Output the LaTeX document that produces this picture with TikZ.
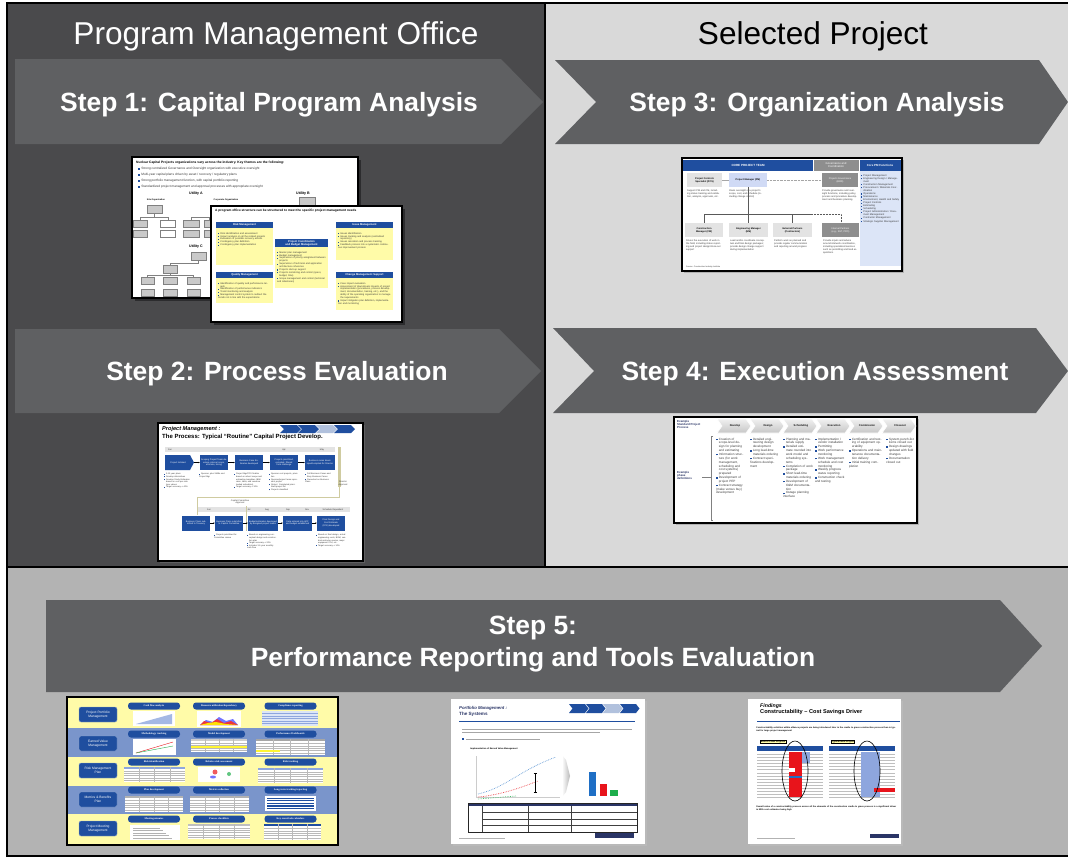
\documentclass[tikz,border=0pt]{standalone}
\usepackage{fontspec}
\setmainfont{Liberation Sans}
\newfontfamily\serifface{Liberation Serif}
\usetikzlibrary{arrows.meta}
\definecolor{dkpanel}{HTML}{4A4A4C}
\definecolor{ltpanel}{HTML}{D9D9D9}
\definecolor{btpanel}{HTML}{B3B3B3}
\definecolor{stepfill}{HTML}{5F6062}
\definecolor{pblue}{HTML}{1F4E9F}
\definecolor{pyel}{HTML}{FFFBA8}
\definecolor{rowblue}{HTML}{7A95CB}
\definecolor{lblue}{HTML}{DCE5F7}
\definecolor{pmblue}{HTML}{D0DAF5}
\definecolor{orggray}{HTML}{C9C9C9}
\definecolor{midgray}{HTML}{8E8E8E}
\definecolor{shadowgray}{HTML}{2C2C2E}
\definecolor{txtgray}{HTML}{3A3A3A}
\definecolor{tanbar}{HTML}{CFCBA0}
\definecolor{cellred}{HTML}{E8141B}
\definecolor{cellblue}{HTML}{8EA6DE}
\definecolor{barblue}{HTML}{1F6FC5}
\definecolor{bargreen}{HTML}{1DAE4B}
\definecolor{ttlnavy}{HTML}{2A3566}
\newcommand{\fsz}[2]{\fontsize{#1}{#2}\selectfont}
\newcommand{\bsq}{\textcolor{pblue}{\rule{0.5em}{0.5em}}\enspace}
\newcommand{\pitem}[1]{\par\hangindent=0.9em\hangafter=1\noindent\makebox[0.9em][l]{\textcolor{pblue}{\rule{0.45em}{0.45em}}}#1}
% grey org-chart box with a small 3D offset
\newcommand{\obox}[4]{%
  \fill[gray!60] (#1+1.2,#2+1.2) rectangle (#3+1.2,#4+1.2);
  \filldraw[fill=orggray,draw=gray,line width=0.3pt] (#1,#2) rectangle (#3,#4);}
% small table: x1 y1 x2 y2 header colour
\newcommand{\minitab}[5]{%
  \fill[white] (#1,#2) rectangle (#3,#4);
  \fill[#5] (#1,#2) rectangle (#3,#2+2);
  \foreach \k in {1,...,5}{\draw[gray!55,line width=0.25pt] (#1,{#2+2+\k*(#4-#2-2)/6}) -- (#3,{#2+2+\k*(#4-#2-2)/6});}
  \foreach \k in {1,...,3}{\draw[gray!55,line width=0.25pt] ({#1+\k*(#3-#1)/4},#2) -- ({#1+\k*(#3-#1)/4},#4);}}
\begin{document}
\begin{tikzpicture}[x=1pt,y=-1pt,
  steptext/.style={text=white,font=\bfseries\fsz{26.4}{31},anchor=base,inner sep=0pt},
  headtext/.style={font=\fsz{31.6}{36},anchor=base,inner sep=0pt},
  slide/.style={fill=white,draw=black,line width=1.5pt},
  tinytxt/.style={inner sep=0pt,font=\fsz{2.4}{2.9},text=txtgray,align=left},
  tinyb/.style={inner sep=0pt,font=\bfseries\fsz{2.6}{3.1},align=center},
  bluehd/.style={inner sep=0pt,text=white,font=\bfseries\fsz{2.7}{3.1},align=center},
  pblk/.style={fill=pblue,text=white,inner sep=0pt,font=\fsz{2.2}{2.6},align=center,minimum height=15pt},
  linkline/.style={gray!70!black,line width=0.5pt},
  lbox/.style={fill=pblue,draw=pblue!50,line width=0.4pt,rounded corners=2pt,minimum width=38pt,minimum height=15pt,text=white,font=\fsz{3.3}{3.9},align=center,inner sep=0pt},
  pill/.style={fill=pblue,rounded corners=3pt,minimum width=52pt,minimum height=7pt,text=white,font=\serifface\bfseries\fsz{2.6}{3},inner sep=0pt},
  chev/.style={top color=gray!12,bottom color=gray!45,draw=white,line width=0.6pt},
]
\useasboundingbox (0,0) rectangle (1068,857);
% ---------- panels and frame
\fill[white] (0,0) rectangle (1068,857);
\fill[dkpanel] (7,3) rectangle (545,567);
\fill[ltpanel] (545,3) rectangle (1068,567);
\fill[btpanel] (7,567) rectangle (1068,857);
\draw[black,line width=2pt] (7,857) -- (7,3) -- (1068,3);
\draw[black,line width=2pt] (545,3) -- (545,567);
\draw[black,line width=2pt] (7,567) -- (1068,567);
\draw[black,line width=2pt] (7,856) -- (1068,856);

% ---------- step arrows
\fill[stepfill] (15,59) -- (501,59) -- (543,102) -- (501,144) -- (15,144) -- cycle;
\fill[stepfill] (555,60) -- (1039,60) -- (1068,102) -- (1039,144) -- (555,144) -- (596,102) -- cycle;
\fill[stepfill] (15,329) -- (499,329) -- (541,371) -- (499,413) -- (15,413) -- cycle;
\fill[stepfill] (553,328) -- (1036,328) -- (1068,371) -- (1036,413) -- (553,413) -- (594,371) -- cycle;
\fill[stepfill] (46,600) -- (1000,600) -- (1042,646) -- (1000,692) -- (46,692) -- cycle;

\node[headtext,text=white] (pmo) at (276,44) {Program Management Office};
\node[headtext,text=black] (selp) at (813,44) {Selected Project};
\node[steptext] (st1) at (269,111) {Step 1: Capital Program Analysis};
\node[steptext] (st2) at (277,380) {Step 2: Process Evaluation};
\node[steptext] (st3) at (817,111) {Step 3: Organization Analysis};
\node[steptext] (st4) at (815,380) {Step 4: Execution Assessment};
\node[steptext] (st5a) at (533,634) {Step 5:};
\node[steptext] (st5b) at (533,666) {Performance Reporting and Tools Evaluation};

% ================= Step 1: utility organizations (back sheet)
\fill[shadowgray] (135,160) rectangle (361,301);
\draw[slide] (132,157) rectangle (358,298);
\node[anchor=west,inner sep=0pt,font=\bfseries\fsz{3.3}{4}] (ua0) at (136,163) {Nuclear Capital Projects organizations vary across the industry. Key themes are the following:};
\node[tinytxt,anchor=west,font=\fsz{3.2}{4}] (ua1) at (138,169) {\bsq Strong centralized Governance and Oversight organization with executive oversight};
\node[tinytxt,anchor=west,font=\fsz{3.2}{4}] (ua2) at (138,175) {\bsq Multi-year capital plans driven by asset / recovery / regulatory plans};
\node[tinytxt,anchor=west,font=\fsz{3.2}{4}] (ua3) at (138,181) {\bsq Strong portfolio management function, with capital portfolio reporting};
\node[tinytxt,anchor=west,font=\fsz{3.2}{4}] (ua4) at (138,187) {\bsq Standardized project management and approval processes with appropriate oversight};
\node[tinyb,font=\bfseries\fsz{3.6}{4}] (uA) at (196,194) {Utility A};
\node[tinyb,font=\bfseries\fsz{3.6}{4}] (uB) at (303,194) {Utility B};
\node[tinyb,font=\bfseries\fsz{3.6}{4}] (uC) at (196,247) {Utility C};
\node[tinyb,font=\bfseries\fsz{2.2}{3}] (siteorg) at (156,200) {Site Organization};
\node[tinyb,font=\bfseries\fsz{2.2}{3}] (corporg) at (226,200) {Corporate Organization};
\obox{147}{205}{162}{213}
\draw[gray,line width=0.3pt] (154.5,213) -- (154.5,217) (140,217) -- (168,217) (140,217) -- (140,220) (168,217) -- (168,220);
\obox{133}{220}{147}{227}
\filldraw[fill=white,draw=gray,line width=0.3pt] (160,220) rectangle (175,227);
\obox{133}{230}{147}{237}
\filldraw[fill=white,draw=gray,line width=0.3pt] (160,230) rectangle (175,237);
\obox{183}{220}{199}{227}
\obox{183}{230}{199}{237}
\obox{204}{220}{214}{227}
\obox{204}{230}{214}{237}
\draw[gray,line width=0.3pt] (191,217) -- (209,217) (191,217) -- (191,220) (209,217) -- (209,220);
\obox{299}{197}{315}{205}
\obox{191}{252}{206}{260}
\draw[gray,line width=0.3pt] (198.5,260) -- (198.5,263) -- (170,263) -- (170,265);
\obox{163}{265}{177}{273}
\draw[gray,line width=0.3pt] (170,273) -- (170,275) (147.5,275) -- (193.5,275) (147.5,275) -- (147.5,277) (193.5,275) -- (193.5,277);
\obox{141}{277}{154}{284}
\obox{163}{277}{177}{284}
\obox{187}{277}{200}{284}
\obox{141}{289}{154}{296}
\obox{163}{289}{177}{296}
\obox{187}{289}{200}{296}

% ================= Step 1: program office structure (front sheet)
\fill[shadowgray] (214,209) rectangle (405,325);
\draw[slide] (211,206) rectangle (402,322);
\node[anchor=west,inner sep=0pt,font=\bfseries\fsz{3.2}{4}] (pf0) at (215,211) {A program office structure can be structured to meet the specific project management needs};
\fill[pyel] (216,228) rectangle (273,265);
\fill[pblue] (216,222) rectangle (273,228);
\node[bluehd] (rmh) at (244.5,225) {Risk Management};
\node[tinytxt,anchor=north west,text width=53pt] (rmb) at (218,231) {\pitem{Risk identification and assessment}\pitem{Impact analysis on all the related projects}\pitem{Evaluation of possible recovery actions}\pitem{Contingency plan definition}\pitem{Contingency plan implementation}};
\fill[pyel] (216,278) rectangle (273,303);
\fill[pblue] (216,272) rectangle (273,278);
\node[bluehd] (qmh) at (244.5,275) {Quality Management};
\node[tinytxt,anchor=north west,text width=53pt] (qmb) at (218,281) {\pitem{Identification of quality and performance targets}\pitem{Identification of performance indicators}\pitem{Trend monitoring and analysis}\pitem{Management control system to redirect the trends not in line with the expectations}};
\fill[pyel] (275,247) rectangle (328,288);
\fill[pblue] (275,239) rectangle (328,247);
\node[bluehd] (pch) at (301.5,243) {Project Coordination\\and Budget Management};
\node[tinytxt,anchor=north west,text width=49pt] (pcb) at (277,250) {\pitem{Master plan management}\pitem{Budget management}\pitem{Supervision of priority assignment between projects}\pitem{Supervision of technical and application architecture coherence}\pitem{Projects start-up support}\pitem{Projects monitoring and control (specs, budget, time)}\pitem{Scope management and control (technical and milestones)}};
\fill[pyel] (336,228) rectangle (393,260);
\fill[pblue] (336,222) rectangle (393,228);
\node[bluehd] (imh) at (364.5,225) {Issue Management};
\node[tinytxt,anchor=north west,text width=53pt] (imb) at (338,231) {\pitem{Issues identification}\pitem{Issues tracking and analysis (centralized repository)}\pitem{Issues resolution and process tracking}\pitem{Feedback process into a systematic continuous improvement process}};
\fill[pyel] (336,278) rectangle (393,310);
\fill[pblue] (336,272) rectangle (393,278);
\node[bluehd] (cmh) at (364.5,275) {Change Management Support};
\node[tinytxt,anchor=north west,text width=53pt] (cmb) at (338,281) {\pitem{Case impact evaluation}\pitem{Assessment of downstream impacts of project implementation (procedures, process development, documentation, training, etc.), and the ability of the operating organization to manage the requirements}\pitem{Impact mitigation plan definition, implementation and monitoring}};

% ================= Step 3: core project team
\fill[gray!60] (684,160) rectangle (904,273);
\draw[fill=white,line width=1.6pt] (682,158) rectangle (902,271);
\fill[pblue] (683,159.5) rectangle (813,171);
\node[bluehd,font=\bfseries\fsz{3}{3.5}] (cpt) at (748,165.2) {CORE PROJECT TEAM};
\fill[midgray] (814,159.5) rectangle (858.5,171);
\node[bluehd,font=\fsz{2.8}{3.3}] (govc) at (836,165.2) {Governance and\\Coordination};
\fill[pblue] (859.5,159.5) rectangle (900.5,171);
\node[bluehd,font=\bfseries\fsz{2.9}{3.3}] (cpmf) at (880,165.2) {Core PM Functions};
\fill[lblue] (859.5,171) rectangle (900.5,266);
\draw[gray!70,line width=0.4pt] (722,180) -- (729,180);
\draw[gray!70,line width=0.4pt,densely dotted] (767,180) -- (822,180);
\fill[gray!22] (687,173) rectangle (722,187);
\node[tinyb,font=\bfseries\fsz{2.4}{2.9}] (pcs) at (704.5,180) {Project Controls\\Specialist (PCS)};
\fill[pmblue] (729,173) rectangle (767,187);
\node[tinyb,font=\bfseries\fsz{2.4}{2.9}] (pmgr) at (748,180) {Project Manager (PM)};
\fill[midgray] (822,173) rectangle (858,187);
\node[tinyb,font=\fsz{2.4}{2.9},text=white] (bod) at (840,180) {Projects Governance\\(BOD)};
\node[tinytxt,anchor=north west,text width=33pt] (pcst) at (687,190) {Support PM and CM, including status tracking and validation, analysis, approvals, etc.};
\node[tinytxt,anchor=north west,text width=37pt] (pmt) at (729,190) {Owns oversight of a project's scope, cost, and schedule (including change control)};
\node[tinytxt,anchor=north west,text width=36pt] (bodt) at (822,190) {Provide governance and oversight functions, including policy, process and procedure development and business planning};
\draw[linkline] (748,187) -- (748,223);
\draw[linkline] (704,214) -- (812,214);
\draw[linkline,densely dotted] (812,214) -- (841,214) -- (841,223);
\draw[linkline] (704,214) -- (704,223) (792,214) -- (792,223);
\fill[gray!22] (685,223) rectangle (723,237);
\node[tinyb,font=\bfseries\fsz{2.4}{2.9}] (cmgr) at (704,230) {Construction\\Manager (CM)};
\fill[gray!22] (729,223) rectangle (768,237);
\node[tinyb,font=\bfseries\fsz{2.4}{2.9}] (emgr) at (748.5,230) {Engineering Manager\\(EM)};
\fill[gray!22] (773,223) rectangle (812,237);
\node[tinyb,font=\bfseries\fsz{2.4}{2.9}] (extp) at (792.5,230) {External Partners\\(Contractors)};
\fill[midgray] (822,223) rectangle (859,237);
\node[tinyb,font=\fsz{2.4}{2.9},text=white] (intp) at (840.5,230) {Internal Partners\\(e.g., SST, PPO)};
\node[tinytxt,anchor=north west,text width=36pt] (cmt) at (686,240) {Drives the execution of work in the field, including status reporting and project design/close-out support};
\node[tinytxt,anchor=north west,text width=37pt] (emt) at (730,240) {Lead and/or coordinate conceptual and final design packages; provide design change support during implementation};
\node[tinytxt,anchor=north west,text width=36pt] (ept) at (774,240) {Perform work as planned and provide regular communication and reporting around progress};
\node[tinytxt,anchor=north west,text width=36pt] (ipt) at (823,240) {Provide inputs and advice around site/work coordination, including specialized services such as permitting and land acquisitions};
\node[tinytxt,anchor=west,font=\fsz{2}{2.4}] (srcl) at (686,267) {Source: Construction Industry Institute};
\node[tinytxt,anchor=north west,text width=38pt,font=\fsz{2.5}{3.05}] (pmfl) at (861,173) {\pitem{Project Management}\pitem{Engineering Design / Management}\pitem{Construction Management}\pitem{Procurement / Materials Coordination}\pitem{Operations}\pitem{Maintenance}\pitem{Environment, Health and Safety}\pitem{Project Controls}\pitem{Estimating}\pitem{Scheduling}\pitem{Project Administration / Document Management}\pitem{Contractor Management}\pitem{Strategic Supplier Management}};

% ================= Step 2: capital project development process
\fill[gray!40!dkpanel] (160,425) rectangle (365,563);
\draw[fill=white,line width=1.6pt] (158,423) rectangle (363,561);
\node[anchor=west,inner sep=0pt,font=\bfseries\itshape\fsz{5.6}{6}] (p2t1) at (162,429.5) {Project Management :};
\node[anchor=west,inner sep=0pt,font=\bfseries\fsz{6}{6.5}] (p2t2) at (162,436.5) {The Process: Typical “Routine” Capital Project Develop.};
\foreach \xa/\cc in {280/pblue,298/pblue,316/pblue!35,334/pblue}
  \fill[\cc] (\xa,425) -- (\xa+17,425) -- (\xa+21,429) -- (\xa+17,433) -- (\xa,433) -- (\xa+4,429) -- cycle;
\fill[gray!22] (165,447) rectangle (335,452);
\node[tinytxt,font=\fsz{2.2}{2.6}] (mjan) at (170,449.5) {Jan};
\node[tinytxt,font=\fsz{2.2}{2.6}] (mapr) at (284,449.5) {Apr};
\node[tinytxt,font=\fsz{2.2}{2.6}] (mmay) at (322,449.5) {May};
\fill[tanbar] (338,447) rectangle (340.5,487);
\fill[pblue] (165,455) -- (190,455) -- (194,462.5) -- (190,470) -- (165,470) -- cycle;
\node[tinytxt,font=\fsz{2.2}{2.6},text=white] (bx1) at (178,462.5) {Project Initiated};
\node[pblk,minimum width=28pt,text width=26pt] (bx2) at (214,462.5) {Scoping Project Team develops internal scope, estimate, timing};
\node[pblk,minimum width=28pt,text width=26pt] (bx3) at (249,462.5) {Business Case Estimates developed};
\node[pblk,minimum width=28pt,text width=26pt] (bx4) at (284,462.5) {Projects prioritized, compiled, filtered from challenge};
\node[pblk,minimum width=30pt,text width=28pt] (bx5) at (320,462.5) {Business cases developed/compiled for Director};
\draw[-{Stealth[length=1.6pt]},line width=0.4pt] (194,462.5) -- (bx2.west);
\draw[-{Stealth[length=1.6pt]},line width=0.4pt] (bx2.east) -- (bx3.west);
\draw[-{Stealth[length=1.6pt]},line width=0.4pt] (bx3.east) -- (bx4.west);
\draw[-{Stealth[length=1.6pt]},line width=0.4pt] (bx4.east) -- (bx5.west);
\node[tinytxt,anchor=north west,text width=28pt,font=\fsz{2.1}{2.6}] (bl1) at (164,472) {\pitem{3-10 year plans}\pitem{Develop alternatives}\pitem{Develop Study Estimates based on cost per mile type values}\pitem{Target accuracy ± 40\%}};
\node[tinytxt,anchor=north west,text width=28pt,font=\fsz{2.1}{2.6}] (bl2) at (199,472) {\pitem{Sponsor, plus SMEs and Project Mgr}};
\node[tinytxt,anchor=north west,text width=29pt,font=\fsz{2.1}{2.6}] (bl3) at (234,472) {\pitem{Project Mgr/PCS finalize based on robust scope and estimating templates (BMI rates, labor, and resource loaded schedules)}\pitem{Target accuracy ± 30\%}};
\node[tinytxt,anchor=north west,text width=29pt,font=\fsz{2.1}{2.6}] (bl4) at (269,472) {\pitem{Sponsor cost projects, priorities}\pitem{Sponsor/project team represent project}\pitem{Output: Completed prioritized project list}\pitem{Projects classified}};
\node[tinytxt,anchor=north west,text width=26pt,font=\fsz{2.1}{2.6}] (bl5) at (305,472) {\pitem{Full Business Cases and Easy Business Cases}\pitem{Presented as Business Plans}};
\node[tinytxt,font=\fsz{2.2}{2.7},align=center] (dirap) at (343,483.5) {Director\\Approval};
\draw[tanbar,line width=0.9pt] (339.2,487) -- (339.2,497) -- (197,497) -- (197,515);
\node[tinytxt,font=\fsz{2.2}{2.7},align=center] (ccap) at (240,502) {Capital Committee\\Approval};
\fill[gray!22] (198,507) rectangle (350,512);
\node[tinytxt,font=\fsz{2.2}{2.6}] (mjun) at (209,509.5) {Jun};
\node[tinytxt,font=\fsz{2.2}{2.6}] (mjul) at (249,509.5) {Jul};
\node[tinytxt,font=\fsz{2.2}{2.6}] (maug) at (267,509.5) {Aug};
\node[tinytxt,font=\fsz{2.2}{2.6}] (msep) at (288,509.5) {Sep};
\node[tinytxt,font=\fsz{2.2}{2.6}] (mnov) at (307,509.5) {Nov};
\node[tinytxt,font=\fsz{2.2}{2.6}] (msch) at (333,509.5) {Schedule Dependent};
\fill[tanbar] (245.5,506) rectangle (247,531);
\node[pblk,minimum width=28pt,text width=26pt] (cx1) at (196,523) {Business Plans submitted to Treasury};
\node[pblk,minimum width=28pt,text width=26pt] (cx2) at (229,523) {Business Plans submitted to Capital Committee};
\node[pblk,minimum width=30pt,text width=28pt] (cx3) at (263,523) {Budget/estimates developed by assigned project teams};
\node[pblk,minimum width=29pt,text width=27pt] (cx4) at (297.5,523) {Data entered into WIP and budget established};
\node[pblk,minimum width=28pt,text width=26pt] (cx5) at (331,523) {Final Design and Cost Estimate (FCE) developed};
\draw[-{Stealth[length=1.6pt]},line width=0.4pt] (cx1.east) -- (cx2.west);
\draw[-{Stealth[length=1.6pt]},line width=0.4pt] (cx2.east) -- (cx3.west);
\draw[-{Stealth[length=1.6pt]},line width=0.4pt] (cx3.east) -- (cx4.west);
\draw[-{Stealth[length=1.6pt]},line width=0.4pt] (cx4.east) -- (cx5.west);
\node[tinytxt,anchor=north west,text width=28pt,font=\fsz{2.1}{2.6}] (cl2) at (214,533) {\pitem{Projects prioritized for Committee review}};
\node[tinytxt,anchor=north west,text width=30pt,font=\fsz{2.1}{2.6}] (cl3) at (247,533) {\pitem{Based on engineering conceptual design and construction plan}\pitem{Target accuracy ± 20\%}\pitem{Includes 3-5 year monthly cash flow}};
\node[tinytxt,anchor=north west,text width=30pt,font=\fsz{2.1}{2.6}] (cl5) at (316,533) {\pitem{Based on final design, actual engineering costs, BOM, vendor/contractor quotes, major equipment POs, etc.}\pitem{Target accuracy ± 10\%}};

% ================= Step 4: standard project process
\fill[gray!60] (676,419) rectangle (919,525);
\draw[fill=white,line width=1.6pt] (674,417) rectangle (917,523);
\node[anchor=north west,inner sep=0pt,font=\bfseries\fsz{2.9}{3.2},align=left,text=ttlnavy] (esp) at (677,420) {Example\\Standard Project\\Process};
\foreach \lbl [count=\i] in {Develop,Design,Scheduling,Execution,Commission,Closeout}{
  \pgfmathsetmacro{\xa}{717+(\i-1)*33}
  \shade[chev] (\xa,419) -- (\xa+29,419) -- (\xa+34,426) -- (\xa+29,433) -- (\xa,433) -- (\xa+5,426) -- cycle;
  \node[inner sep=0pt,font=\bfseries\fsz{2.7}{3},text=gray!15!black] (ch\i) at (\xa+18,426) {\lbl};
}
\node[anchor=north west,inner sep=0pt,font=\bfseries\fsz{2.9}{3.2},align=left,text=ttlnavy] (epd) at (677,471) {Example\\phase\\definitions};
\draw[gray,line width=0.4pt] (713,436) -- (711,436) -- (711,520) -- (713,520) (702,477) -- (711,477);
\node[tinytxt,anchor=north west,text width=28pt,font=\fsz{3.1}{3.85}] (col1) at (716,436) {\pitem{Creation of scope-level design for planning and estimating}\pitem{Information structure (for work management, scheduling and cost systems) prepared}\pitem{Development of project PEP}\pitem{Contract strategy (make versus buy) development}};
\node[tinytxt,anchor=north west,text width=28pt,font=\fsz{3.1}{3.85}] (col2) at (750,436) {\pitem{Detailed engineering design development}\pitem{Long lead-time materials ordering}\pitem{Contract specifications development}};
\node[tinytxt,anchor=north west,text width=30pt,font=\fsz{3.1}{3.85}] (col3) at (783,436) {\pitem{Planning and materials supply}\pitem{Detailed estimate rounded into work model and scheduling systems}\pitem{Completion of work package}\pitem{Short lead-time materials ordering}\pitem{Development of O\&M documentation}\pitem{Outage planning interface}};
\node[tinytxt,anchor=north west,text width=31pt,font=\fsz{3.1}{3.85}] (col4) at (815,436) {\pitem{Implementation / vendor installation}\pitem{Permitting}\pitem{Work performance monitoring}\pitem{Work management schedule and cost monitoring}\pitem{Weekly progress status reporting}\pitem{Construction check and testing}};
\node[tinytxt,anchor=north west,text width=33pt,font=\fsz{3.1}{3.85}] (col5) at (849,436) {\pitem{Certification and testing of equipment operability}\pitem{Operations and maintenance documentation delivery}\pitem{Initial training completion}};
\node[tinytxt,anchor=north west,text width=28pt,font=\fsz{3.1}{3.85}] (col6) at (886,436) {\pitem{System punch-list items closed out}\pitem{Design drawings updated with field changes}\pitem{Documentation closed out}};

% ================= Step 5: reporting tools overview
\fill[pyel] (68,698) rectangle (337,728);
\fill[rowblue] (68,728) rectangle (337,757);
\fill[pyel] (68,757) rectangle (337,786);
\fill[rowblue] (68,786) rectangle (337,814);
\fill[pyel] (68,814) rectangle (337,844);
\draw[line width=1.8pt] (67,697) rectangle (338,845);
\node[lbox] (ppm) at (98,714.5) {Project Portfolio\\Management};
\node[lbox] (evm) at (98,743.5) {Earned Value\\Management};
\node[lbox] (rmp) at (98,770.5) {Risk Management\\Plan};
\node[lbox] (mbp) at (98,799.5) {Metrics \& Benefits\\Plan};
\node[lbox] (pmm) at (98,828.5) {Project Meeting\\Management};
\node[pill] (q11) at (154,706) {Cash flow analysis};
\node[pill] (q12) at (219,706) {Resource utilization/dependency};
\node[pill] (q13) at (290.5,706) {Compliance reporting};
\node[pill] (q21) at (154,734) {Methodology tracking};
\node[pill] (q22) at (219,734) {Model development};
\node[pill] (q23) at (290.5,734) {Performance Dashboards};
\node[pill] (q31) at (154,762) {Risk identification};
\node[pill] (q32) at (219,762) {Relative risk assessment};
\node[pill] (q33) at (290.5,762) {Risk tracking};
\node[pill] (q41) at (154,790) {Plan development};
\node[pill] (q42) at (219,790) {Metrics collection};
\node[pill] (q43) at (290.5,790) {Long-term tracking/reporting};
\node[pill] (q51) at (154,819) {Meeting minutes};
\node[pill] (q52) at (219,819) {Process checklists};
\node[pill] (q53) at (290.5,819) {Key event/task calendars};
% row 1 graphics
\fill[white] (133,711) rectangle (175,726);
\fill[cellblue!80] (136,724) -- (172,714) -- (172,724) -- cycle;
\fill[white] (197,711) rectangle (241,727);
\fill[blue!55] (200,725) -- (206,720) -- (213,722) -- (219,717) -- (226,721) -- (233,719) -- (238,725) -- cycle;
\fill[cellred!85] (200,725) -- (204,721) -- (211,723) -- (217,719) -- (224,723) -- (231,721) -- (238,725) -- cycle;
\fill[yellow!85!orange] (200,725) -- (208,723) -- (216,722) -- (226,724) -- (238,725) -- cycle;
\fill[lblue] (262,711) rectangle (318,726);
\foreach \k in {1,...,5}{\draw[cellblue,line width=0.25pt] (262,711+\k*2.5) -- (318,711+\k*2.5);}
% row 2 graphics
\fill[white] (133,739) rectangle (176,755);
\draw[cellred,line width=0.4pt] (136,753) -- (173,742);
\draw[bargreen,line width=0.4pt] (136,753) -- (173,746);
\minitab{191}{739}{247}{752}{gray!40}
\fill[yellow!80] (191,746) rectangle (247,748);
\minitab{256}{739}{325}{755}{gray!70}
\fill[yellow!80] (256,750) rectangle (280,752);
% row 3 graphics
\minitab{124}{767}{185}{782}{cellblue}
\fill[white] (198,767) rectangle (240,782);
\fill[cellred!70] (215,772) circle (2.5pt);
\fill[blue!55] (213,777) ellipse (3pt and 1.5pt);
\fill[bargreen!70] (229,774) circle (2pt);
\minitab{258}{768}{323}{783}{cellblue}
% row 4 graphics
\minitab{125}{796}{183}{812}{gray!60}
\minitab{190}{796}{249}{812}{gray!60}
\fill[white] (265,796) rectangle (316,811);
\foreach \k in {0,...,4}{\fill[pblue] (267,797.5+\k*2.6) rectangle (314,798.8+\k*2.6);}
% row 5 graphics
\fill[white] (130,825) rectangle (180,840);
\foreach \k in {0,...,4}{\draw[gray!60,line width=0.3pt] (133,828+\k*2.5) -- (160+\k*3,828+\k*2.5);}
\minitab{188}{824}{250}{839}{gray!50}
\minitab{264}{824}{321}{840}{pblue}

% ================= Step 5: portfolio management system sheet
\fill[gray!55] (452.5,700.5) rectangle (646.5,845.5);
\fill[white] (451,699) rectangle (645,844);
\node[anchor=west,inner sep=0pt,font=\bfseries\itshape\fsz{4.3}{5},text=ttlnavy] (pfm1) at (459,708) {Portfolio Management :};
\node[anchor=west,inner sep=0pt,font=\bfseries\fsz{4.6}{5},text=ttlnavy] (pfm2) at (459,714) {The Systems};
\foreach \xa/\cc in {569/pblue,586/pblue,603/pblue!35,620/pblue}
  \fill[\cc] (\xa,704) -- (\xa+16,704) -- (\xa+19.5,708.5) -- (\xa+16,713) -- (\xa,713) -- (\xa+3.5,708.5) -- cycle;
\fill[pblue] (459,720.5) rectangle (635,722);
\foreach \yy/\xe in {729/632,732/600}{\draw[gray!70,line width=0.6pt] (462,\yy) -- (\xe,\yy);}
\fill[pblue] (462,738) rectangle (464,740);
\draw[gray!70,line width=0.6pt] (466,739) -- (540,739);
\node[anchor=west,inner sep=0pt,font=\bfseries\fsz{2.2}{2.6}] (iev) at (470,748.5) {Implementation of Earned Value Management};
\draw[gray!40,line width=0.3pt] (476,756) -- (476,797) -- (560,797);
\draw[barblue!70,densely dotted,line width=0.7pt] (478,794) .. controls (505,788) and (520,770) .. (556,757);
\draw[cellred!80,densely dotted,line width=0.7pt] (478,797) .. controls (500,795) and (520,788) .. (538,781);
\draw[bargreen!80,densely dotted,line width=0.7pt] (478,799) -- (516,796);
\draw[line width=0.5pt] (535,773) -- (535,792) (533.5,773) -- (536.5,773) (533.5,792) -- (536.5,792);
\shade[left color=white,right color=gray!55] (562,755) -- (566,760) -- (570,776) -- (566,792) -- (562,797) -- cycle;
\fill[barblue] (589,772) rectangle (596,796);
\fill[cellred] (600,784) rectangle (607,796);
\fill[bargreen] (610,790) rectangle (618,796);
\fill[white] (468,803) rectangle (637,832);
\fill[ttlnavy] (468,803) rectangle (637,806);
\draw[gray!30!black,line width=0.8pt] (468,803) rectangle (637,832);
\foreach \yy in {812.5,819,825.5}{\draw[gray!50!black,line width=0.6pt] (482,\yy) -- (637,\yy);}
\draw[gray!50!black,line width=0.6pt] (482,806) -- (482,832) (528,806) -- (528,832) (571,806) -- (571,832);
\draw[gray!60,line width=0.3pt] (459,838) -- (505,838);
\fill[ttlnavy] (595,833) rectangle (634,837.5);

% ================= Step 5: constructability findings sheet
\fill[gray!55] (749.5,700.5) rectangle (902.5,845.5);
\fill[white] (748,699) rectangle (901,844);
\node[anchor=west,inner sep=0pt,font=\bfseries\itshape\fsz{5.2}{6}] (fnd) at (760,706) {Findings};
\node[anchor=west,inner sep=0pt,font=\bfseries\fsz{5.6}{6}] (cst) at (760,712.5) {Constructability – Cost Savings Driver};
\fill[pblue] (757,720.5) rectangle (900,722);
\node[anchor=north west,inner sep=0pt,text width=140pt,font=\bfseries\fsz{2.2}{2.7}] (cintro) at (756,726.5) {Constructability activities within alliance projects are being introduced later in the cradle to grave construction process than is typical for large project management};
\node[draw=black,line width=0.3pt,fill=pyel,inner sep=0.6pt,font=\bfseries\fsz{2.3}{2.7}] (bicp) at (773,741.5) {Best In Class Projects};
\node[draw=black,line width=0.3pt,fill=pyel,inner sep=0.6pt,font=\bfseries\fsz{2.3}{2.7}] (tnp) at (843,741.5) {Typical NRA Project};
\foreach \xa in {757,829}{
  \fill[white] (\xa,746) rectangle (\xa+66,797);
  \fill[pblue] (\xa,746) rectangle (\xa+66,751);
  \foreach \k in {1,...,15}{\draw[gray!50,line width=0.25pt] (\xa,751+\k*3.1) -- (\xa+66,751+\k*3.1);}
}
\fill[cellred] (789,752) rectangle (802,797);
\fill[white] (789,768) rectangle (795,771.5);
\fill[cellblue] (802,752) rectangle (810,763);
\fill[barblue] (789,776) rectangle (802,778);
\fill[cellblue] (861,752) rectangle (880,797);
\fill[cellred] (874,788) rectangle (895,792);
\draw[black,line width=0.6pt] (795,771) ellipse (13pt and 30pt);
\draw[black,line width=0.6pt] (867,771) ellipse (13pt and 30pt);
\node[anchor=north west,inner sep=0pt,text width=140pt,font=\bfseries\fsz{2.2}{2.7}] (coutro) at (756,806) {Overall value of a constructability process across all the elements of the construction cradle to grave process is a significant driver in NRA cost estimates being high};
\draw[gray!60,line width=0.3pt] (757,838) -- (795,838);
\fill[ttlnavy] (870,834) rectangle (899,838);
\end{tikzpicture}
\end{document}
